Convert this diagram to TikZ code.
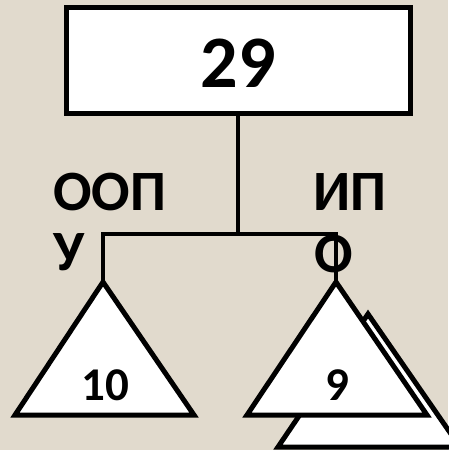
\documentclass[tikz,border=0pt]{standalone}
\usepackage{fontspec}
\setmainfont{Carlito}
\definecolor{parch}{RGB}{225,218,205}
\begin{document}
\begin{tikzpicture}[x=1pt,y=-1pt,
  boxst/.style={draw=black,fill=white,line width=5pt,minimum width=344pt,minimum height=106pt,inner sep=0pt},
  tri/.style={draw=black,fill=white,line width=5pt,line join=miter},
  conn/.style={draw=black,line width=4.5pt},
  lbl/.style={inner sep=0pt,anchor=base west,font=\fontsize{57}{60}\selectfont\bfseries},
  num/.style={inner sep=0pt,anchor=base,font=\fontsize{47}{50}\selectfont\bfseries}]
\useasboundingbox (0,0) rectangle (448,450);
\fill[parch] (0,0) rectangle (448,450);
% back triangle
\coordinate (b1) at (368,314);
\filldraw[tri] (b1) -- (460,447) -- (278,447) -- cycle;
% triangles
\coordinate (a1) at (103,282);
\coordinate (a2) at (336,282);
\filldraw[tri] (a1) -- (194,415) -- (15,415) -- cycle;
\filldraw[tri] (a2) -- (427,415) -- (247,415) -- cycle;
% box
\node[boxst] (top) at (238,60) {};
\node[inner sep=0pt,anchor=base,font=\fontsize{74}{78}\selectfont\bfseries] (v29) at (238,87) {29};
% labels
\node[lbl] (l1) at (53,210) {ООП};
\node[lbl] (l2) at (53,270) {У};
\node[lbl] (r1) at (313,210) {ИП};
\node[lbl] (r2) at (314,272) {О};
% connectors
\coordinate (j) at (238,234);
\draw[conn] (top.south) -- (j);
\draw[conn] (a1) |- (j) -| (a2);
% numbers
\node[num] (n10) at (105,400) {10};
\node[num] (n9) at (337,400) {9};
\end{tikzpicture}
\end{document}
